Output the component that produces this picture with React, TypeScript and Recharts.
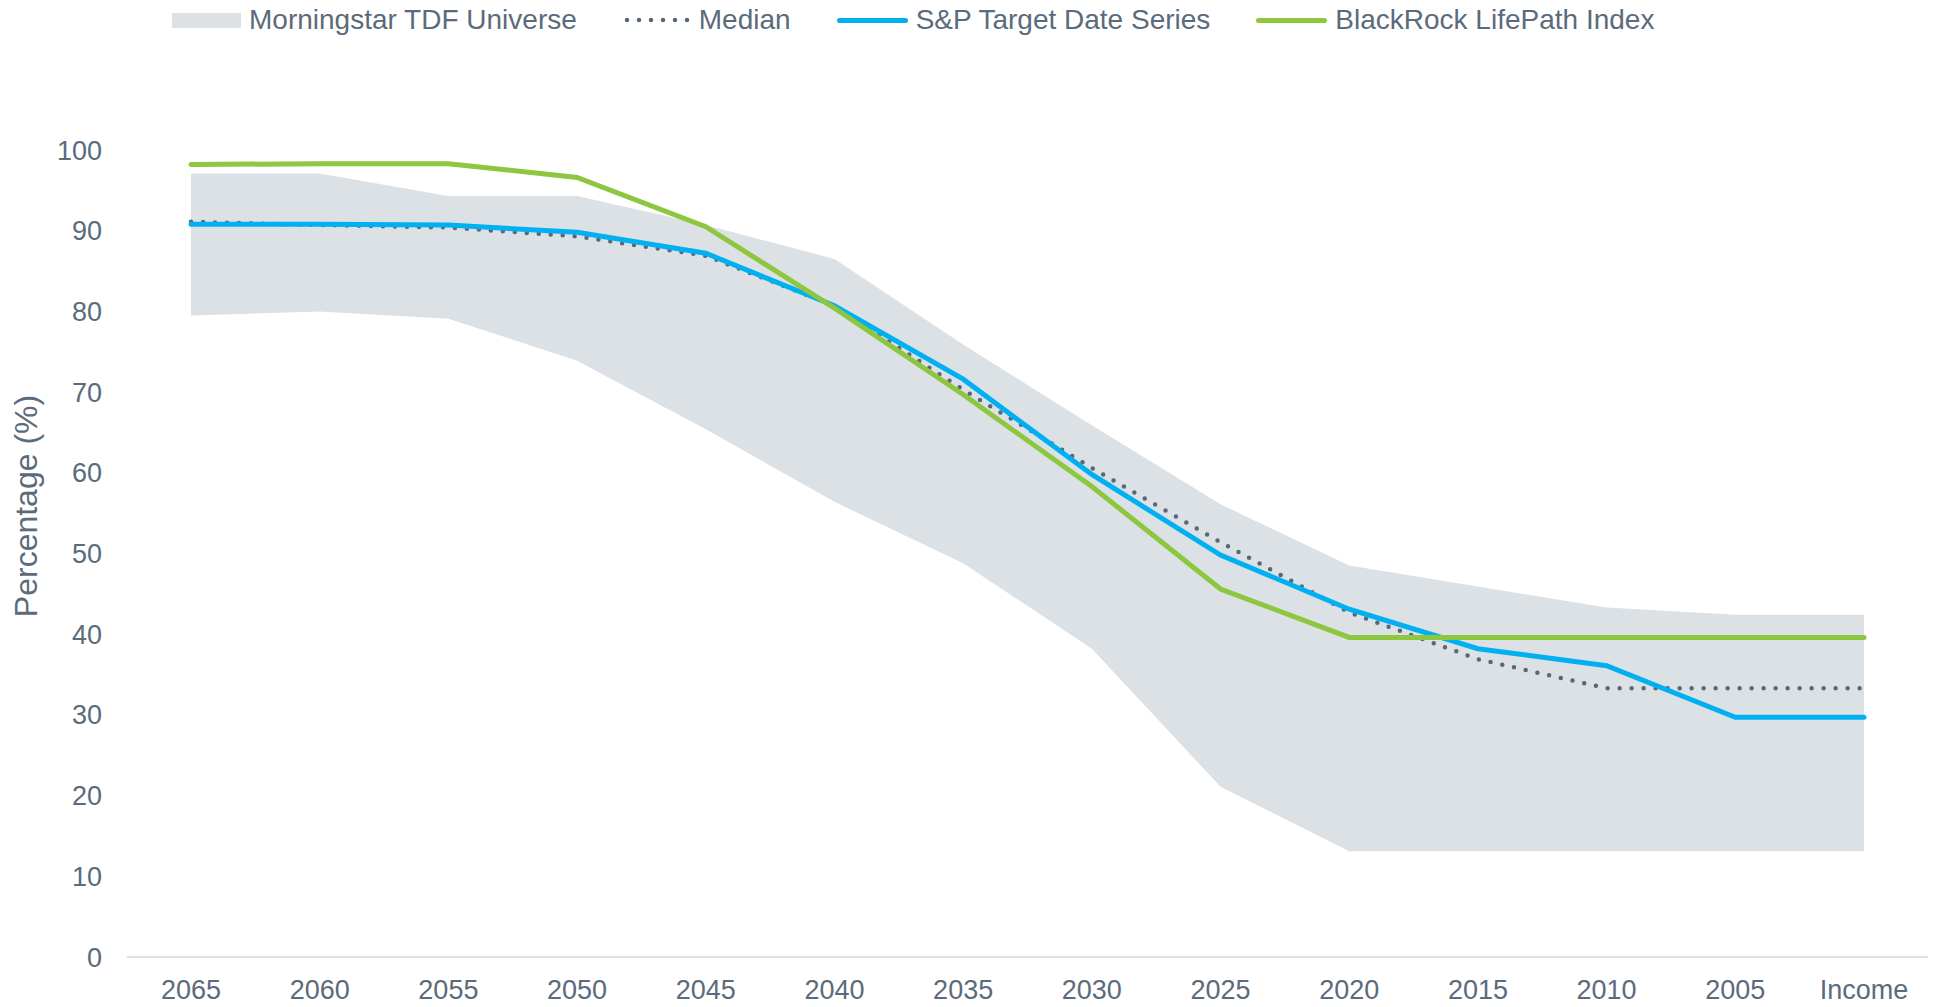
import { ComposedChart, Area, Line, XAxis, YAxis } from "recharts";

const CATEGORIES = ["2065", "2060", "2055", "2050", "2045", "2040", "2035", "2030", "2025", "2020", "2015", "2010", "2005", "Income"];
const UNIVERSE_LOW = [79.5, 80.0, 79.1, 73.9, 65.4, 56.4, 48.8, 38.2, 21.1, 13.1, 13.1, 13.1, 13.1, 13.1];
const UNIVERSE_HIGH = [97.1, 97.1, 94.3, 94.3, 90.7, 86.5, 75.9, 65.9, 56.1, 48.5, 45.9, 43.3, 42.4, 42.4];
const MEDIAN = [91.1, 90.7, 90.4, 89.3, 86.9, 80.7, 70.3, 60.6, 51.4, 42.7, 36.9, 33.3, 33.3, 33.3];
const SP_TARGET = [90.8, 90.8, 90.7, 89.8, 87.2, 80.7, 71.6, 59.8, 49.8, 43.1, 38.2, 36.1, 29.7, 29.7];
const BLACKROCK = [98.2, 98.3, 98.3, 96.6, 90.5, 80.4, 69.7, 58.3, 45.6, 39.6, 39.6, 39.6, 39.6, 39.6];
const Y_TICKS = [0, 10, 20, 30, 40, 50, 60, 70, 80, 90, 100];
const SERIES_NAMES = ["Morningstar TDF Universe", "Median", "S&P Target Date Series", "BlackRock LifePath Index"];

const TEXT = "#5b6b7b";
const BAND = "#dce1e5";
const BLUE = "#00b0f0";
const GREEN = "#8dc63f";
const DOTS = "#596878";
const FONT = "'Liberation Sans', Arial, sans-serif";

const data = CATEGORIES.map((name, i) => ({
  name,
  universe: [UNIVERSE_LOW[i], UNIVERSE_HIGH[i]],
  median: MEDIAN[i],
  sp: SP_TARGET[i],
  blackrock: BLACKROCK[i],
}));

const Swatch = ({ kind }: { kind: number }) => {
  if (kind === 0) return <div style={{ width: 69, height: 15, background: BAND }} />;
  if (kind === 1)
    return (
      <svg width={68} height={8}>
        <line x1={4} y1={4} x2={66} y2={4} stroke={DOTS} strokeWidth={4.5} strokeDasharray="0 12" strokeLinecap="round" />
      </svg>
    );
  return <div style={{ width: 71, height: 5, borderRadius: 3, background: kind === 2 ? BLUE : GREEN }} />;
};

const TopLegend = () => (
  <div
    style={{
      position: "absolute",
      left: 172,
      top: 0,
      height: 40,
      display: "flex",
      alignItems: "center",
      gap: 46,
      fontFamily: FONT,
      fontSize: 28,
      color: TEXT,
      whiteSpace: "nowrap",
    }}
  >
    {SERIES_NAMES.map((n, i) => (
      <div key={n} style={{ display: "flex", alignItems: "center", gap: 8 }}>
        <Swatch kind={i} />
        <span>{n}</span>
      </div>
    ))}
  </div>
);

const YTitle = () => (
  <text
    x={37}
    y={506}
    transform="rotate(-90 37 506)"
    textAnchor="middle"
    fill={TEXT}
    fontSize={32}
    fontFamily={FONT}
  >
    Percentage (%)
  </text>
);

export default function App() {
  return (
    <div style={{ position: "absolute", left: 0, top: 0, width: 1934, height: 1007, background: "#fff" }}>
      <ComposedChart
        width={1934}
        height={1007}
        data={data}
        margin={{ top: 150, right: 6, bottom: 0, left: 0 }}
      >
        <XAxis
          dataKey="name"
          scale="point"
          padding={{ left: 64, right: 64 }}
          height={50}
          tickLine={false}
          tickSize={0}
          tickMargin={23}
          axisLine={{ stroke: "#dfe2e5", strokeWidth: 2 }}
          tick={{ fill: TEXT, fontSize: 27, fontFamily: FONT }}
          interval={0}
        />
        <YAxis
          domain={[0, 100]}
          ticks={Y_TICKS}
          width={127}
          axisLine={false}
          tickLine={false}
          tickSize={0}
          tickMargin={25}
          tick={{ fill: TEXT, fontSize: 27, fontFamily: FONT }}
          label={{ content: () => <YTitle /> }}
        />
        <Area
          dataKey="universe"
          type="linear"
          fill={BAND}
          fillOpacity={1}
          stroke="none"
          isAnimationActive={false}
          activeDot={false}
        />
        <Line
          dataKey="median"
          type="linear"
          stroke={DOTS}
          strokeWidth={4.5}
          strokeDasharray="0 12"
          strokeLinecap="round"
          dot={false}
          isAnimationActive={false}
        />
        <Line
          dataKey="sp"
          type="linear"
          stroke={BLUE}
          strokeWidth={5}
          strokeLinecap="round"
          dot={false}
          isAnimationActive={false}
        />
        <Line
          dataKey="blackrock"
          type="linear"
          stroke={GREEN}
          strokeWidth={5}
          strokeLinecap="round"
          dot={false}
          isAnimationActive={false}
        />
      </ComposedChart>
      <TopLegend />
    </div>
  );
}
